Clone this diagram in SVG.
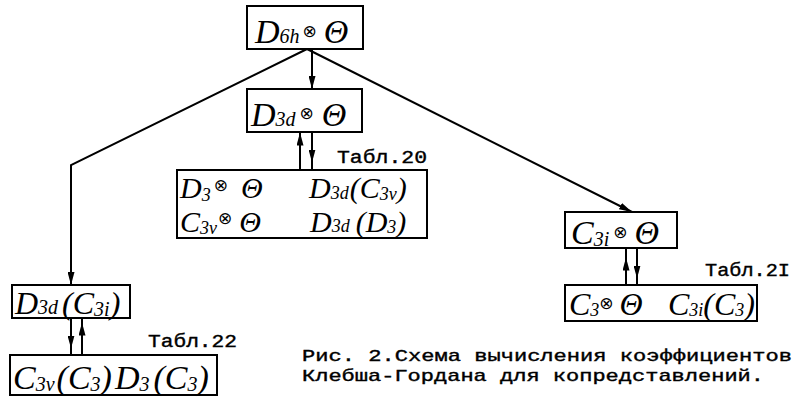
<svg xmlns="http://www.w3.org/2000/svg" width="793" height="399" viewBox="0 0 793 399">
<style>
.box{fill:#fff;stroke:#000;stroke-width:2}
.ln{fill:none;stroke:#000;stroke-width:2}
.m{font-family:"Liberation Serif","DejaVu Serif",serif;font-style:italic;font-size:34px;fill:#000}
.m2{font-size:32px}
.m3{font-size:30px}
.s{font-size:20px}
.s2{font-size:18px}
.o{font-family:"DejaVu Sans",sans-serif;font-style:normal;font-size:17px}
.t{font-family:"Liberation Mono","DejaVu Sans Mono",monospace;font-size:19px;fill:#000;stroke:#000;stroke-width:0.4}
.c{font-size:17px}
</style>
<defs>
<marker id="ah" viewBox="0 0 13 7" refX="13" refY="3.5" markerWidth="13" markerHeight="7" markerUnits="userSpaceOnUse" orient="auto">
<path d="M0,0 L13,3.5 L0,7 z" fill="#000"/>
</marker>
<marker id="am" viewBox="0 0 13 7" refX="6.5" refY="3.5" markerWidth="13" markerHeight="7" markerUnits="userSpaceOnUse" orient="auto">
<path d="M0,0 L13,3.5 L0,7 z" fill="#000"/>
</marker>
</defs>
<g id="connectors">
<path class="ln" d="M312,49 L312,89" marker-end="url(#ah)"/>
<path class="ln" d="M307,49 L71,165 L71,285" marker-end="url(#ah)"/>
<path class="ln" d="M307,49 L632,212" marker-end="url(#ah)"/>
<path class="ln" d="M300,170 L300,139 L300,132" marker-mid="url(#am)"/>
<path class="ln" d="M312,132 L312,156 L312,170" marker-mid="url(#am)"/>
<path class="ln" d="M71,318 L71,342 L71,355" marker-mid="url(#am)"/>
<path class="ln" d="M82,355 L82,329 L82,318" marker-mid="url(#am)"/>
<path class="ln" d="M626,285 L626,264 L626,248" marker-mid="url(#am)"/>
<path class="ln" d="M637,248 L637,272 L637,285" marker-mid="url(#am)"/>
</g>
<g id="n-d6h">
<rect class="box" x="247" y="6" width="116" height="43"/>
<text class="m" x="255" y="43">D<tspan class="s">6h</tspan><tspan class="o" dx="3" dy="-6">⊗</tspan><tspan dx="7" dy="6">Θ</tspan></text>
</g>
<g id="n-d3d">
<rect class="box" x="247" y="89" width="115" height="43"/>
<text class="m" x="251" y="126">D<tspan class="s">3d</tspan><tspan class="o" dx="4" dy="-7">⊗</tspan><tspan dx="8" dy="7">Θ</tspan></text>
</g>
<g id="n-tab20">
<rect class="box" x="177" y="170" width="250" height="68"/>
<text class="m m3" x="180" y="198">D<tspan class="s2" dy="3">3</tspan><tspan class="o" dx="3" dy="-10">⊗</tspan><tspan dx="13" dy="7">Θ</tspan></text>
<text class="m m3" x="309" y="198">D<tspan class="s2" dy="1">3d</tspan><tspan dx="1" dy="-1">(</tspan>C<tspan class="s2" dy="2">3v</tspan><tspan dy="-2">)</tspan></text>
<text class="m m3" x="180" y="232">C<tspan class="s2" dy="2">3v</tspan><tspan class="o" dx="1" dy="-10">⊗</tspan><tspan dx="7" dy="8">Θ</tspan></text>
<text class="m m3" x="310" y="232">D<tspan class="s2">3d</tspan><tspan dx="6">(</tspan>D<tspan class="s2" dy="1">3</tspan><tspan dy="-1">)</tspan></text>
<text class="t" x="337" y="163" textLength="90" lengthAdjust="spacingAndGlyphs">Табл.20</text>
</g>
<g id="n-c3i">
<rect class="box" x="565" y="212" width="112" height="36"/>
<text class="m" x="571" y="244">C<tspan class="s" dy="2">3i</tspan><tspan class="o" dx="4" dy="-8">⊗</tspan><tspan dx="7" dy="6">Θ</tspan></text>
</g>
<g id="n-tab21">
<rect class="box" x="565" y="285" width="192" height="36"/>
<text class="m m2" x="569" y="315">C<tspan class="s2" dy="1">3</tspan><tspan class="o" dy="-7">⊗</tspan><tspan dx="6" dy="6">Θ</tspan></text>
<text class="m m2" x="668" y="315">C<tspan class="s2" dy="1">3i</tspan><tspan dy="-1">(</tspan>C<tspan class="s2" dy="1">3</tspan><tspan dy="-1">)</tspan></text>
<text class="t" x="705" y="276" textLength="85" lengthAdjust="spacingAndGlyphs">Табл.2I</text>
</g>
<g id="n-d3dc3i">
<rect class="box" x="12" y="285" width="118" height="33"/>
<text class="m m2" x="15" y="314">D<tspan class="s">3d</tspan><tspan dx="4">(</tspan>C<tspan class="s" dy="2">3i</tspan><tspan dy="-2">)</tspan></text>
</g>
<g id="n-tab22">
<rect class="box" x="10" y="355" width="207" height="40"/>
<text class="m" x="13" y="389">C<tspan class="s" dy="2">3v</tspan><tspan dx="2" dy="-2">(</tspan>C<tspan class="s" dy="2">3</tspan><tspan dy="-2">)</tspan><tspan dx="3">D</tspan><tspan class="s" dy="2">3</tspan><tspan dx="4" dy="-2">(</tspan>C<tspan class="s" dy="2">3</tspan><tspan dy="-2">)</tspan></text>
<text class="t" x="148" y="347" textLength="89" lengthAdjust="spacingAndGlyphs">Табл.22</text>
</g>
<g id="caption">
<text class="t c" x="302" y="361" textLength="490" lengthAdjust="spacingAndGlyphs">Рис. 2.Схема вычисления коэффициентов</text>
<text class="t c" x="302" y="381" textLength="462" lengthAdjust="spacingAndGlyphs">Клебша-Гордана для копредставлений.</text>
</g>
</svg>
